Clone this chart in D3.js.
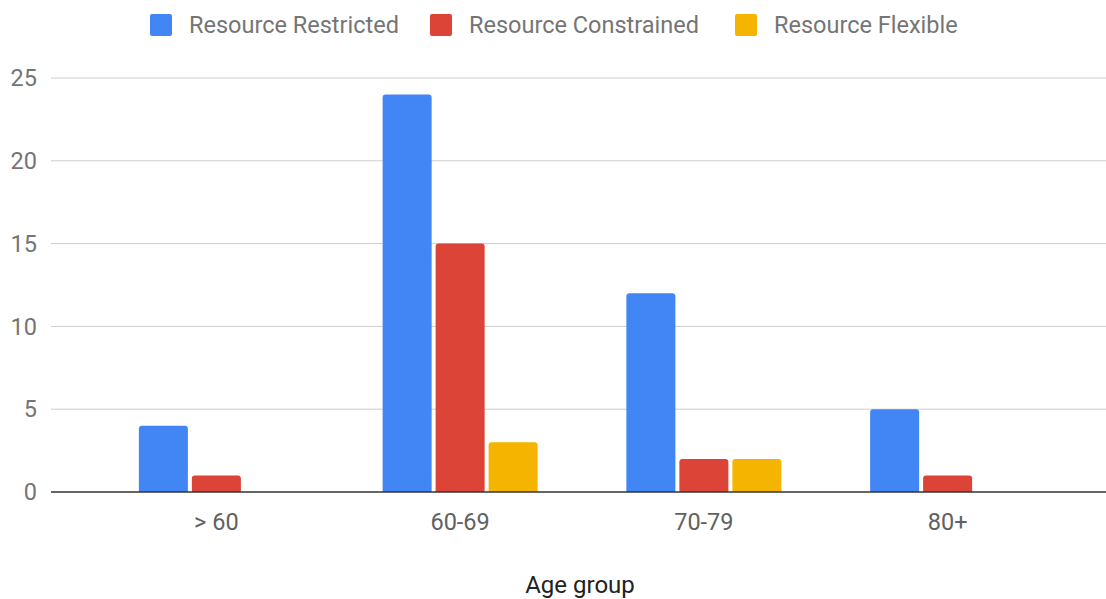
<!DOCTYPE html>
<html><head><meta charset="utf-8">
<script src="https://cdn.jsdelivr.net/npm/d3@7"></script>
<style>body{margin:0;background:#fff}svg{display:block}text{font-family:Roboto,sans-serif}</style>
</head><body><svg id="c" width="1106" height="599"></svg>
<script>
const categories = ["> 60", "60-69", "70-79", "80+"];
const seriesNames = ["Resource Restricted", "Resource Constrained", "Resource Flexible"];
const restricted = [4, 24, 12, 5];
const constrained = [1, 15, 2, 1];
const flexible = [0, 3, 2, 0];
const yTicks = [0, 5, 10, 15, 20, 25];
const colors = ["#4285F4", "#DB4437", "#F4B400"];
const seriesValues = [restricted, constrained, flexible];

(function () {
const svg = d3.select("#c");
const plotL = 51, plotR = 1106, plotTop = 78, plotBottom = 492;
const y = d3.scaleLinear().domain([0, 25]).range([plotBottom, plotTop]);
const x0 = d3.scaleBand().domain(categories).range([94.5, 1069.5]);
const groupW = 155;
const x1 = d3.scaleBand().domain(seriesNames).range([0, groupW]).paddingInner(0.075);

// gridlines
svg.append("g").selectAll("line").data(yTicks.filter(d => d > 0)).join("line")
  .attr("x1", plotL).attr("x2", plotR)
  .attr("y1", d => y(d)).attr("y2", d => y(d))
  .attr("stroke", "#cccccc").attr("stroke-width", 1);

// y labels
svg.append("g").selectAll("text").data(yTicks).join("text")
  .attr("x", 37).attr("y", d => y(d)).attr("dy", "0.35em")
  .attr("text-anchor", "end").attr("font-size", 23.5).attr("fill", "#757575")
  .text(d => d);

// bars
const groups = svg.append("g").selectAll("g").data(categories).join("g")
  .attr("transform", c => `translate(${x0(c) + (x0.bandwidth() - groupW) / 2},0)`);
groups.selectAll("path").data((c, i) => seriesNames.map((s, j) => ({s, v: seriesValues[j][i], j})).filter(d => d.v > 0))
  .join("path")
  .attr("fill", d => colors[d.j])
  .attr("d", d => {
    const xL = x1(d.s), w = x1.bandwidth(), yT = y(d.v), yB = y(0), r = 3;
    return `M${xL},${yB}V${yT + r}Q${xL},${yT} ${xL + r},${yT}H${xL + w - r}Q${xL + w},${yT} ${xL + w},${yT + r}V${yB}Z`;
  });

// zero line
svg.append("line").attr("x1", plotL).attr("x2", plotR).attr("y1", y(0)).attr("y2", y(0))
  .attr("stroke", "#333").attr("stroke-width", 1.5);

// x labels
svg.append("g").selectAll("text").data(categories).join("text")
  .attr("x", c => x0(c) + x0.bandwidth() / 2).attr("y", 530)
  .attr("text-anchor", "middle").attr("font-size", 23.5).attr("fill", "#616161")
  .text(c => c);

// axis title
svg.append("text").attr("x", 580).attr("y", 593).attr("text-anchor", "middle")
  .attr("font-size", 24).attr("fill", "#222").text("Age group");

// legend
const legX = [150, 430, 735];
const leg = svg.append("g").selectAll("g").data(seriesNames).join("g")
  .attr("transform", (d, i) => `translate(${legX[i]},14)`);
leg.append("rect").attr("width", 22).attr("height", 22).attr("rx", 2).attr("fill", (d, i) => colors[i]);
leg.append("text").attr("x", 39).attr("y", 11).attr("dy", "0.35em")
  .attr("font-size", 23.5).attr("fill", "#757575").text(d => d);
})();
</script></body></html>
